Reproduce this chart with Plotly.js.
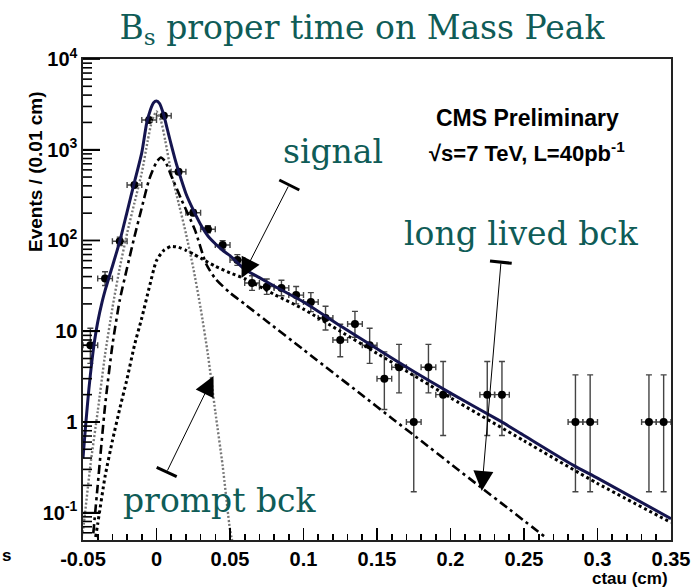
<!DOCTYPE html>
<html>
<head>
<meta charset="utf-8">
<script src="https://cdn.plot.ly/plotly-3.0.1.min.js"></script>
<style>html,body{margin:0;padding:0;background:#fff;}</style>
</head>
<body>
<div id="chart" style="width:698px;height:588px;"></div>
<script>
// Binned proper decay length (cm) and events per 0.01 cm bin
const binCenters = [-0.045,-0.035,-0.025,-0.015,-0.005,0.005,0.015,0.025,0.035,0.045,
                    0.055,0.065,0.075,0.085,0.095,0.105,0.115,0.125,0.135,0.145,
                    0.155,0.165,0.175,0.185,0.195,0.225,0.235,0.285,0.295,0.335,0.345];
const events     = [7,38,98,408,2125,2370,572,202,133,89,
                    61,34,31,30,25,21,14,8,12,7,
                    3,4,1,4,2,2,2,1,1,1,1];
// Asymmetric (Poisson) uncertainties
const errHigh    = [3.77,7.21,10.9,21.2,47.1,49.7,24.9,15.2,12.5,10.5,
                    8.84,6.88,6.62,6.51,6.06,5.63,4.83,3.95,4.53,3.77,
                    2.92,3.16,2.30,3.16,2.64,2.64,2.64,2.30,2.30,2.30,2.30];
const errLow     = [2.58,6.14,9.9,20.2,46.1,48.7,23.9,14.2,11.5,9.43,
                    7.80,5.81,5.54,5.45,4.97,4.55,3.70,2.77,3.42,2.58,
                    1.63,1.91,0.83,1.91,1.29,1.29,1.29,0.83,0.83,0.83,0.83];
const binHalfWidth = 0.005;

// Fit model, total
const totalX = [-0.05,-0.048,-0.046,-0.044,-0.042,-0.04,-0.037,-0.035,-0.03,-0.025,-0.02,-0.015,-0.01,
                -0.0067,-0.004,-0.002,0,0.002,0.0046,0.0075,0.0092,0.0125,0.0148,0.02,0.025,0.03,0.035,
                0.04,0.045,0.05,0.06,0.07,0.08,0.1,0.125,0.15,0.175,0.2,0.234,0.25,0.284,0.3,0.35];
const totalY = [0.4,1.0,2.3,4.6,8.1,12.6,21,28,52,98,207,440,930,
                1955,2800,3300,3440,3250,2520,1650,1280,800,597,330,217,150,112,
                92,78,68,48,39,31.5,21,11.5,6.4,3.6,2.08,1.02,0.71,0.33,0.24,0.086];
// Signal component
const signalX = [-0.0414,-0.04,-0.035,-0.03,-0.025,-0.02,-0.015,-0.01,-0.005,0,0.005,0.01,0.015,0.02,
                 0.025,0.03,0.04,0.05,0.06,0.08,0.1,0.125,0.15,0.175,0.2,0.25,0.3,0.35];
const signalY = [0.054,0.075,0.25,0.62,1.4,3.0,7.0,14,30,60,78,86,84,78,
                 71,64,52,44,38,25.5,17.5,10,5.7,3.25,1.85,0.62,0.21,0.078];
// Long lived background component
const longLivedX = [-0.043,-0.04,-0.035,-0.03,-0.025,-0.02,-0.015,-0.01,-0.005,0,0.003,0.006,0.0103,0.0171,
                    0.0262,0.0338,0.04,0.05,0.06,0.075,0.1,0.12,0.14,0.16,0.18,0.2,0.22,0.24,0.265];
const longLivedY = [0.059,0.2,1.5,7,22,50,110,230,470,730,820,740,504,279,
                    130,55,38,26.5,19.9,12.9,6.25,3.5,1.97,1.1,0.62,0.346,0.194,0.109,0.053];
// Prompt background component
const promptX = [-0.052,-0.05,-0.045,-0.04,-0.035,-0.03,-0.025,-0.02,-0.015,-0.01,-0.006,-0.003,0,
                 0.003,0.006,0.01,0.015,0.02,0.025,0.03,0.035,0.04,0.045,0.05,0.052];
const promptY = [0.045,0.065,0.33,1.3,5.5,18,50,120,260,560,1250,2100,2650,
                 2100,1250,560,260,120,50,18,5.5,1.3,0.33,0.065,0.045];

// Axis ticks
const xTickVals = [-0.05,0,0.05,0.1,0.15,0.2,0.25,0.3,0.35];
const xTickText = ['-0.05','0','0.05','0.1','0.15','0.2','0.25','0.3','0.35'];
const yTickVals = [0.1,1,10,100,1000,10000];
const yTickText = ['10<sup>-1</sup>','1','10','10<sup>2</sup>','10<sup>3</sup>','10<sup>4</sup>'];

// minor ticks on the log axis: 2..9 in every decade
const yMinor = [];
for (let e = -2; e <= 3; e++) {
  for (let m = 2; m <= 9; m++) yMinor.push(m * Math.pow(10, e));
}

// plot-area geometry, used to place labels and arrows in paper units
const M = {l: 83, r: 27, t: 59, b: 48};
const W = 698, H = 588;
const PW = W - M.l - M.r, PH = H - M.t - M.b;
const px = x => (x - M.l) / PW;
const py = y => (H - M.b - y) / PH;

const teal = '#0f5c57';
const serif = 'DejaVu Serif, serif';
const sans = 'Liberation Sans, Arial, sans-serif';
const yRange = [Math.log10(0.05), 4];
// fraction of the plot height for a value on the log axis
const yFrac = v => (Math.log10(v) - yRange[0]) / (yRange[1] - yRange[0]);

const traces = [
  {
    x: binCenters, y: events, type: 'scatter', mode: 'markers',
    marker: {color: '#000', size: 8},
    error_y: {type: 'data', symmetric: false, array: errHigh, arrayminus: errLow,
              color: '#444', thickness: 1.4, width: 3},
    error_x: {type: 'constant', value: binHalfWidth, color: '#444', thickness: 1.4, width: 3},
    hoverinfo: 'x+y'
  },
  {
    x: promptX, y: promptY, type: 'scatter', mode: 'lines',
    line: {color: '#777', width: 2.4, dash: '2px,2px', shape: 'spline', smoothing: 0.6}
  },
  {
    x: longLivedX, y: longLivedY, type: 'scatter', mode: 'lines',
    line: {color: '#000', width: 2.6, dash: '9px,4px,3px,4px', shape: 'spline', smoothing: 0.6}
  },
  {
    x: signalX, y: signalY, type: 'scatter', mode: 'lines',
    line: {color: '#000', width: 3, dash: '3px,3px', shape: 'spline', smoothing: 0.6}
  },
  {
    x: totalX, y: totalY, type: 'scatter', mode: 'lines',
    line: {color: '#15154f', width: 3, shape: 'spline', smoothing: 0.6}
  }
];

// arrow from a barred tail to a filled head
function arrow(tailX, tailY, tipX, tipY) {
  return {
    xref: 'paper', yref: 'paper', x: px(tipX), y: py(tipY),
    ax: tailX - tipX, ay: tailY - tipY, text: '', showarrow: true,
    arrowhead: 2, arrowsize: 4, arrowwidth: 1, arrowcolor: '#000'
  };
}
function tailBar(x0, y0, x1, y1) {
  return {type: 'line', xref: 'paper', yref: 'paper',
          x0: px(x0), y0: py(y0), x1: px(x1), y1: py(y1),
          line: {color: '#000', width: 3}};
}
function label(text, x, y, font, extra) {
  return Object.assign({xref: 'paper', yref: 'paper', x: px(x), y: py(y),
          xanchor: 'center', yanchor: 'middle', text: text, showarrow: false,
          font: font}, extra || {});
}
// inward tick mark on the left frame
function yTick(v, len, width) {
  return {type: 'line', xref: 'paper', yref: 'paper',
          x0: 0, x1: len / PW, y0: yFrac(v), y1: yFrac(v),
          line: {color: '#000', width: width}};
}

const annotations = [
  label('signal', 333, 152, {family: serif, size: 33, color: teal}),
  label('long lived bck', 521, 233, {family: serif, size: 33, color: teal}),
  label('prompt bck', 220, 500, {family: serif, size: 33, color: teal}),
  label('CMS Preliminary', 527, 118, {family: sans, size: 23, color: '#000', weight: 'bold'}),
  label('\u221As=7 TeV, L=40pb<sup>-1</sup>', 527, 152, {family: sans, size: 22, color: '#000', weight: 'bold'}),
  label('Events / (0.01 cm)', 35, 172, {family: sans, size: 19, color: '#000', weight: 'bold'}, {textangle: -90}),
  label('ctau (cm)', 670, 578, {family: sans, size: 17, color: '#000', weight: 'bold'}, {xanchor: 'right'}),
  label('s', 6, 555, {family: sans, size: 17, color: '#000', weight: 'bold'}),
  arrow(289, 185, 241.5, 278),
  arrow(501, 262, 481.7, 491),
  arrow(166.7, 472, 213.5, 376)
];

const shapes = [
  tailBar(279.3, 180, 299.3, 190),
  tailBar(490, 261, 511.7, 263.3),
  tailBar(156.7, 467.3, 176.7, 476.7)
].concat(
  yTickVals.map(v => yTick(v, 17, 1.8)),
  yMinor.filter(v => v > 0.05).map(v => yTick(v, 9, 1.6))
);

const tickFont = {family: sans, size: 20, color: '#000', weight: 'bold'};

const layout = {
  width: W, height: H,
  margin: M,
  paper_bgcolor: '#fff', plot_bgcolor: '#fff',
  showlegend: false,
  title: {
    text: 'B<sub>s</sub> proper time on Mass Peak',
    font: {family: serif, size: 33, color: teal},
    xref: 'container', yref: 'container', x: 362 / W, y: 1 - 27 / H,
    xanchor: 'center', yanchor: 'middle'
  },
  xaxis: {
    range: [-0.05, 0.35], showgrid: false, zeroline: false,
    showline: true, mirror: true, linecolor: '#222', linewidth: 1.6,
    ticks: 'inside', ticklen: 12, tickwidth: 1.8, tickcolor: '#000',
    tickmode: 'array', tickvals: xTickVals, ticktext: xTickText,
    tickfont: tickFont,
    minor: {ticks: 'inside', ticklen: 6, tickwidth: 1.6, tickcolor: '#000',
            tickmode: 'linear', tick0: -0.05, dtick: 0.01, showgrid: false}
  },
  yaxis: {
    type: 'log', range: yRange, showgrid: false, zeroline: false,
    showline: true, mirror: true, linecolor: '#222', linewidth: 1.6,
    ticks: 'inside', ticklen: 17, tickwidth: 1.8, tickcolor: '#000',
    tickmode: 'array', tickvals: yTickVals, ticktext: yTickText,
    tickfont: tickFont
  },
  annotations: annotations,
  shapes: shapes
};

Plotly.newPlot('chart', traces, layout, {displayModeBar: false, staticPlot: true});
</script>
</body>
</html>
